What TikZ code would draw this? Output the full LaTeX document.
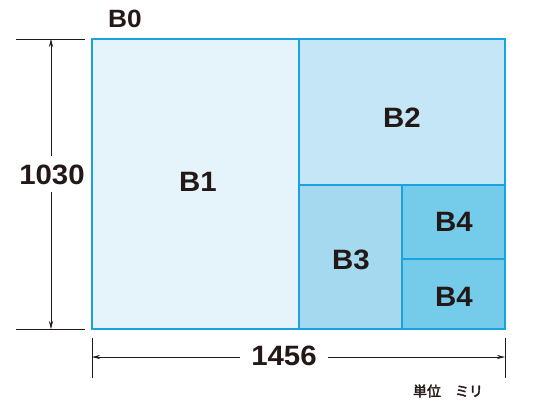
\documentclass[tikz,border=0pt]{standalone}
\usepackage{fontspec}
\setmainfont{Liberation Sans}[FakeStretch=1.05]
\newfontfamily\jpfont{Noto Sans CJK JP}[AutoFakeBold=2.5]
\usetikzlibrary{arrows.meta}
\definecolor{cB1}{HTML}{E5F3FA}
\definecolor{cB2}{HTML}{C5E6F6}
\definecolor{cB3}{HTML}{A4D9EF}
\definecolor{cB4}{HTML}{74CBEA}
\definecolor{edge}{HTML}{1AA3E0}
\definecolor{ink}{HTML}{231815}
\tikzset{
  paper/.style={draw=edge, line width=1.4pt},
  lbl/.style={font=\fontsize{28}{28}\selectfont\bfseries, text=ink, inner sep=0pt},
  dimline/.style={draw=ink, line width=0.6pt},
  dimarrow/.style={draw=ink, line width=0.6pt, -{Stealth[length=8pt,width=4pt]}},
}
\begin{document}
\begin{tikzpicture}[x=1pt,y=-1pt]
\useasboundingbox (0,0) rectangle (550,400);
% sheets
\filldraw[paper, fill=cB1] (92,39) rectangle (299,329);
\filldraw[paper, fill=cB2] (299,39) rectangle (505,185);
\filldraw[paper, fill=cB3] (299,185) rectangle (402,329);
\filldraw[paper, fill=cB4] (402,185) rectangle (505,259);
\filldraw[paper, fill=cB4] (402,259) rectangle (505,329);
\node[lbl] (b1) at (198,182) {B1};
\node[lbl] (b2) at (402,118) {B2};
\node[lbl] (b3) at (351,260) {B3};
\node[lbl] (b4a) at (454,222) {B4};
\node[lbl] (b4b) at (454,297) {B4};
\node[lbl, font=\fontsize{25}{25}\selectfont\bfseries] (b0) at (125,19) {B0};
% vertical dimension
\coordinate (vt1) at (16,39); \coordinate (vt2) at (85,39);
\coordinate (vb1) at (16,329); \coordinate (vb2) at (85,329);
\draw[dimline] (vt1) -- (vt2);
\draw[dimline] (vb1) -- (vb2);
\node[lbl] (h) at (52,175) {1030};
\coordinate (vtop) at (51,39); \coordinate (vbot) at (51,329);
\draw[dimarrow] (51,156) -- (vtop);
\draw[dimarrow] (51,192) -- (vbot);
% horizontal dimension
\coordinate (hl1) at (92,338); \coordinate (hl2) at (92,378);
\coordinate (hr1) at (505,338); \coordinate (hr2) at (505,378);
\draw[dimline] (hl1) -- (hl2);
\draw[dimline] (hr1) -- (hr2);
\node[lbl] (w) at (284,356) {1456};
\coordinate (hleft) at (92,357); \coordinate (hright) at (505,357);
\draw[dimarrow] (240,357) -- (hleft);
\draw[dimarrow] (328,357) -- (hright);
\node[font=\jpfont\fontsize{14}{14}\selectfont\bfseries, text=ink, inner sep=0pt] (unit) at (448,391) {単位\hspace{14pt}ミリ};
\end{tikzpicture}
\end{document}
